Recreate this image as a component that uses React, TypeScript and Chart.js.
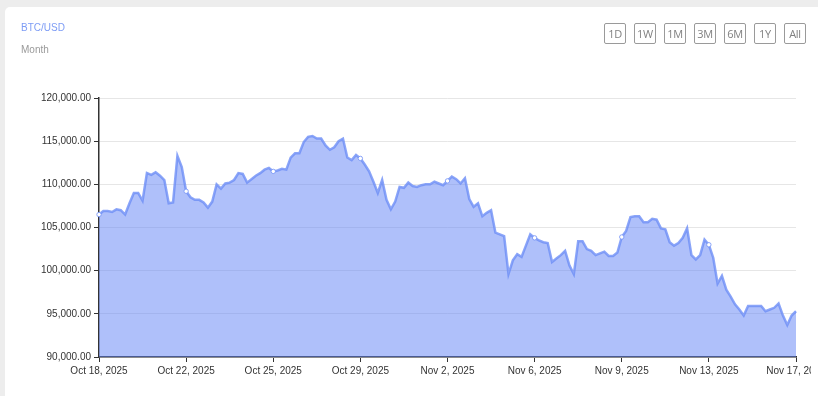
import React, { useEffect, useRef } from 'react';
import { Chart, registerables } from 'chart.js';

Chart.register(...registerables);

// ---- data ----
const pairName = 'BTC/USD';
const periodName = 'Month';
const rangeButtons = ['1D', '1W', '1M', '3M', '6M', '1Y', 'All'];

const tickLabels = [
  'Oct 18, 2025', 'Oct 22, 2025', 'Oct 25, 2025', 'Oct 29, 2025', 'Nov 2, 2025',
  'Nov 6, 2025', 'Nov 9, 2025', 'Nov 13, 2025', 'Nov 17, 2025',
];

const prices = [
  106500, 106900, 106900, 106800, 107100, 107000, 106500, 107800, 109000, 109000,
  108100, 111300, 111100, 111400, 111000, 110500, 107800, 107900, 113300, 112000,
  109200, 108500, 108200, 108200, 107900, 107300, 108000, 110000, 109500, 110100,
  110200, 110500, 111300, 111200, 110200, 110600, 111000, 111300, 111700, 111900,
  111500, 111600, 111800, 111700, 113100, 113600, 113600, 114900, 115500, 115600,
  115300, 115300, 114500, 114000, 114300, 115000, 115300, 113100, 112800, 113400,
  113000, 112300, 111500, 110300, 109000, 110500, 108200, 107100, 108000, 109700,
  109600, 110200, 109800, 109700, 109900, 110000, 110000, 110300, 110100, 109900,
  110400, 110900, 110600, 110100, 110700, 108300, 107400, 107800, 106300, 106700,
  107000, 104400, 104200, 104000, 99600, 101200, 101900, 101600, 102900, 104200,
  103800, 103500, 103300, 103200, 101000, 101400, 101800, 102300, 100600, 99600,
  103400, 103400, 102500, 102300, 101800, 102000, 102200, 101700, 101700, 102100,
  103900, 104600, 106200, 106300, 106300, 105600, 105600, 106000, 105900, 104900,
  104800, 103300, 102900, 103200, 103800, 104900, 101800, 101300, 101800, 103600,
  103000, 101500, 98500, 99400, 97800, 97000, 96100, 95500, 94800, 95900,
  95900, 95900, 95900, 95300, 95500, 95700, 96200, 94800, 93700, 94800,
  95300,
];

const yMin = 90000;
const yMax = 120000;
const yStep = 5000;

// one category per sample (4.5 h apart from Oct 18, 2025)
const START = Date.UTC(2025, 9, 18);
const STEP_MS = 4.5 * 3600 * 1000;
const categories = prices.map((_, i) => new Date(START + i * STEP_MS).toISOString());
const LABEL_EVERY = (prices.length - 1) / (tickLabels.length - 1);

const LINE = 'rgba(110,142,246,0.8)';
const FILL = 'rgba(95,130,245,0.5)';

export default function App() {
  const ref = useRef<HTMLCanvasElement | null>(null);

  useEffect(() => {
    if (!ref.current) return;
    Chart.defaults.font.family = '"Liberation Sans", Arial, sans-serif';
    const chart = new Chart(ref.current, {
      type: 'line',
      data: {
        labels: categories,
        datasets: [
          {
            data: prices,
            borderColor: LINE,
            backgroundColor: FILL,
            borderWidth: 2.5,
            fill: 'start',
            tension: 0,
            pointRadius: (ctx: any) =>
              ctx.dataIndex % LABEL_EVERY === 0 && ctx.dataIndex < prices.length - 1 ? 2.2 : 0,
            pointBackgroundColor: '#ffffff',
            pointBorderColor: LINE,
            pointBorderWidth: 1,
          },
        ],
      },
      options: {
        responsive: false,
        animation: false,
        layout: { padding: { left: 39, right: 64, top: 98, bottom: 19 } },
        plugins: { legend: { display: false }, tooltip: { enabled: false } },
        scales: {
          x: {
            type: 'category',
            afterBuildTicks: (scale: any) => {
              scale.ticks = scale.ticks.filter((t: any) => t.value % LABEL_EVERY === 0);
            },
            afterFit: (scale: any) => {
              scale.height = 20;
            },
            ticks: {
              autoSkip: false,
              maxRotation: 0,
              padding: 3,
              color: '#333',
              font: { size: 10 },
              callback: (v: any) => tickLabels[Math.round(Number(v) / LABEL_EVERY)],
            },
            grid: { drawOnChartArea: false, tickColor: '#333', tickLength: 5 },
            border: { color: '#333', width: 1.5 },
          },
          y: {
            min: yMin,
            max: yMax,
            afterFit: (scale: any) => {
              scale.width = 60;
            },
            ticks: {
              stepSize: yStep,
              padding: 3,
              color: '#333',
              font: { size: 10 },
              callback: (v: any) =>
                Number(v).toLocaleString('en-US', { minimumFractionDigits: 2, maximumFractionDigits: 2 }),
            },
            grid: { color: '#e6e6e6', tickColor: '#333', tickLength: 5, lineWidth: 1 },
            border: { color: '#333', width: 1.5 },
          },
        },
      },
    });
    return () => chart.destroy();
  }, []);

  return (
    <div style={{ position: 'fixed', inset: 0, background: '#ededed', overflow: 'hidden' }}>
      <div
        style={{
          position: 'absolute', left: 5, top: 7, width: 900, height: 500,
          background: '#fff', borderRadius: 5,
        }}
      />
      <div style={{ position: 'absolute', left: 0, top: 0, width: 811, height: 396, overflow: 'hidden' }}>
        <canvas ref={ref} width={860} height={396} style={{ display: 'block' }} />
      </div>
      <div
        style={{
          position: 'absolute', left: 21, top: 23, fontFamily: '"Liberation Sans", Arial, sans-serif',
          fontSize: 10, lineHeight: '10px', color: '#7d9cf5',
        }}
      >
        {pairName}
      </div>
      <div
        style={{
          position: 'absolute', left: 21, top: 45, fontFamily: '"Liberation Sans", Arial, sans-serif',
          fontSize: 10, lineHeight: '10px', color: '#9a9a9a',
        }}
      >
        {periodName}
      </div>
      {rangeButtons.map((b, i) => (
        <div
          key={b}
          style={{
            position: 'absolute', left: 604 + i * 30, top: 23, width: 22, height: 21,
            boxSizing: 'border-box', border: '1px solid #9a9a9a', borderRadius: 2,
            display: 'flex', alignItems: 'center', justifyContent: 'center',
            fontFamily: '"Open Sans", Lato, sans-serif', fontSize: 11, color: '#808080',
            letterSpacing: '-0.3px', whiteSpace: 'nowrap',
          }}
        >
          {b}
        </div>
      ))}
    </div>
  );
}
